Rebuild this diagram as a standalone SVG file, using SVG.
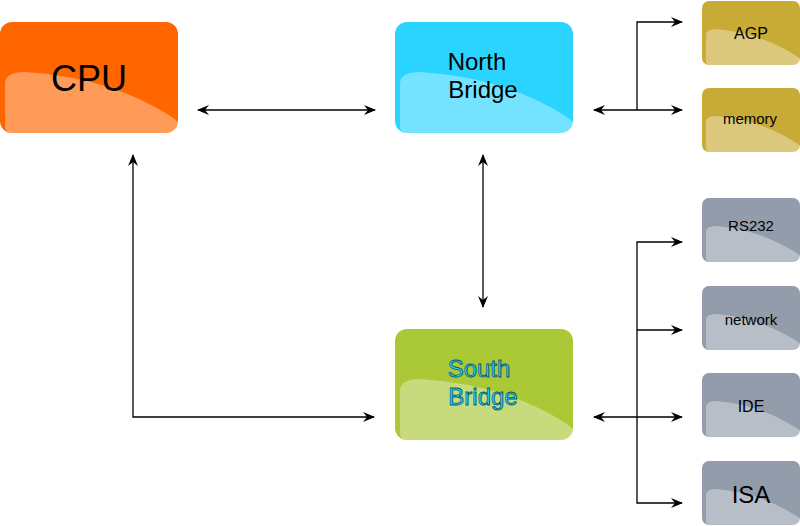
<svg xmlns="http://www.w3.org/2000/svg" width="800" height="526" viewBox="0 0 800 526">
<defs>
<marker id="a" viewBox="0 0 12 10" refX="11" refY="5" markerWidth="12" markerHeight="10" markerUnits="userSpaceOnUse" orient="auto-start-reverse"><path d="M0,0 L12,5 L0,10 L4,5 Z" fill="#000"/></marker>
<path id="hb" d="M5,62 Q5,50 25,50 Q110,55 172,95 L178,100 L178,104 Q178,111 171,111 L12,111 Q5,111 5,104 Z"/>
<path id="hs" d="M4,34 Q4,28 14,28 Q60,32 96,56 L98,58 L98,60 Q98,64 93,64 L8,64 Q4,64 4,60 Z"/>
</defs>
<style>
.t{font-family:"Liberation Sans",Arial,sans-serif;fill:#000;text-anchor:middle}
.w{fill:#fff;opacity:0.35}
.c path,.c polyline{fill:none;stroke:#000;stroke-width:1.3}
</style>
<g id="cpu"><rect x="0" y="22" width="178" height="111" rx="12" fill="#ff6600"/><use href="#hb" x="0" y="22" class="w"/><text class="t" x="89" y="91" font-size="36">CPU</text></g>
<g id="north"><rect x="395" y="22" width="178" height="111" rx="12" fill="#2ad4ff"/><use href="#hb" x="395" y="22" class="w"/><text class="t" x="477" y="70" font-size="24">North</text><text class="t" x="483" y="98" font-size="24">Bridge</text></g>
<g id="south"><rect x="395" y="329" width="178" height="111" rx="12" fill="#abc837"/><use href="#hb" x="395" y="329" class="w"/><text class="t" x="479" y="377" font-size="24" style="fill:#2ad4ff;stroke:#005a70;stroke-width:0.8">South</text><text class="t" x="483" y="405" font-size="24" style="fill:#2ad4ff;stroke:#005a70;stroke-width:0.8">Bridge</text></g>
<g id="agp"><rect x="702" y="1" width="98" height="64" rx="7" fill="#c8ab37"/><use href="#hs" x="702" y="1" class="w"/><text class="t" x="751" y="39" font-size="16">AGP</text></g>
<g id="memory"><rect x="702" y="88" width="98" height="64" rx="7" fill="#c8ab37"/><use href="#hs" x="702" y="88" class="w"/><text class="t" x="750" y="124" font-size="15">memory</text></g>
<g id="rs232"><rect x="702" y="198" width="98" height="64" rx="7" fill="#939cab"/><use href="#hs" x="702" y="198" class="w"/><text class="t" x="751" y="231" font-size="15">RS232</text></g>
<g id="network"><rect x="702" y="286" width="98" height="64" rx="7" fill="#939cab"/><use href="#hs" x="702" y="286" class="w"/><text class="t" x="751" y="325" font-size="15">network</text></g>
<g id="ide"><rect x="702" y="373" width="98" height="64" rx="7" fill="#939cab"/><use href="#hs" x="702" y="373" class="w"/><text class="t" x="751" y="412" font-size="16">IDE</text></g>
<g id="isa"><rect x="702" y="461" width="98" height="64" rx="7" fill="#939cab"/><use href="#hs" x="702" y="461" class="w"/><text class="t" x="751" y="503" font-size="24">ISA</text></g>
<g id="connectors" class="c">
<path d="M198,110 H375" marker-start="url(#a)" marker-end="url(#a)"/>
<path d="M483,155 V307" marker-start="url(#a)" marker-end="url(#a)"/>
<polyline points="133,155 133,417 374,417" marker-start="url(#a)" marker-end="url(#a)"/>
<path d="M594,110 H682" marker-start="url(#a)" marker-end="url(#a)"/>
<polyline points="637,110 637,22 682,22" marker-end="url(#a)"/>
<path d="M594,417 H682" marker-start="url(#a)" marker-end="url(#a)"/>
<polyline points="682,242 637,242 637,503 682,503" marker-start="url(#a)" marker-end="url(#a)"/>
<path d="M637,330 H682" marker-end="url(#a)"/>
</g>
</svg>
